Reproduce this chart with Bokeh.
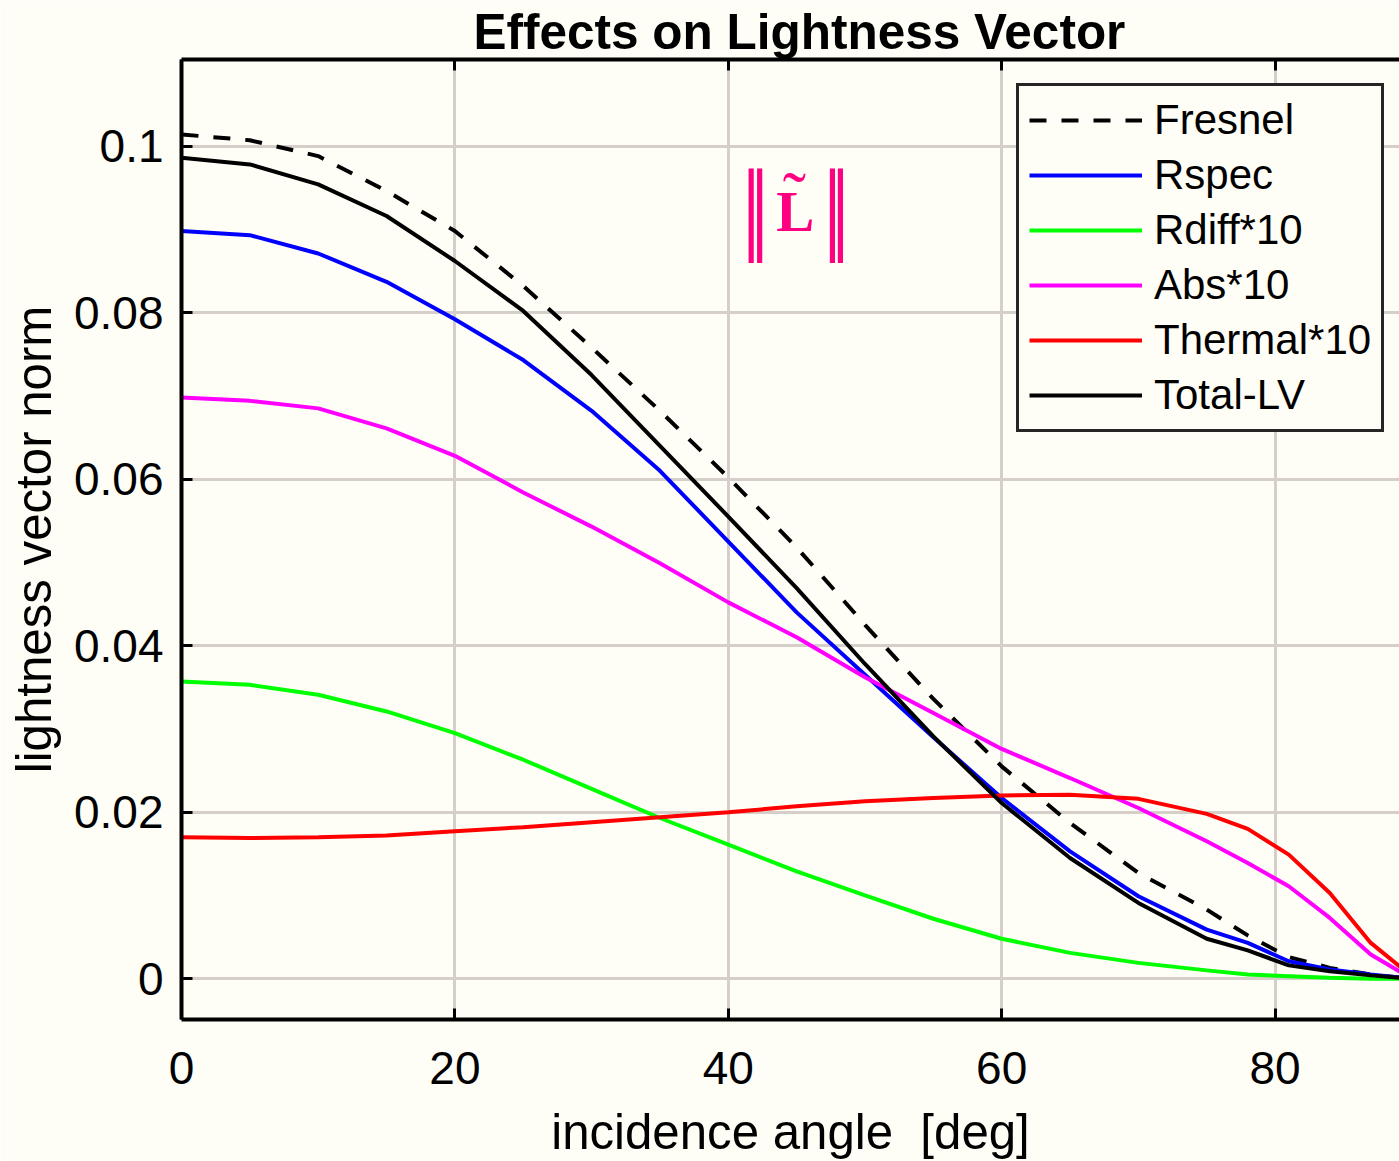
from bokeh.plotting import figure
from bokeh.models import (Range1d, FixedTicker, LinearAxis, Label, Legend, LegendItem,
                          CustomLabelingPolicy)
from bokeh.embed import file_html
from bokeh.resources import INLINE

# ---------------- data ----------------
angles = [0, 5, 10, 15, 20, 25, 30, 35, 40, 45, 50, 55, 60, 65, 70, 75, 78, 81, 84, 87, 90]

fresnel = [0.1014, 0.1007, 0.0988, 0.0946, 0.0898, 0.0832, 0.0758, 0.0682, 0.0602, 0.0518,
           0.0425, 0.0336, 0.0255, 0.0187, 0.0127, 0.0083, 0.0052, 0.0026, 0.0013, 0.0005, 0.0]
rspec = [0.0898, 0.0893, 0.0871, 0.0837, 0.0792, 0.0743, 0.0682, 0.0610, 0.0525, 0.0440,
         0.0365, 0.0290, 0.0217, 0.0153, 0.0099, 0.0059, 0.0043, 0.0021, 0.0011, 0.0005, 0.0]
rdiff10 = [0.0357, 0.0353, 0.0341, 0.0321, 0.0295, 0.0263, 0.0228, 0.0193, 0.0161, 0.0129,
           0.0100, 0.0072, 0.0048, 0.0031, 0.0019, 0.0010, 0.0005, 0.0003, 0.0001, 0.0, 0.0]
abs10 = [0.0698, 0.0694, 0.0685, 0.0661, 0.0628, 0.0584, 0.0543, 0.0499, 0.0452, 0.0410,
         0.0362, 0.0319, 0.0276, 0.0241, 0.0205, 0.0165, 0.0139, 0.0111, 0.0073, 0.0029, 0.0]
thermal10 = [0.0170, 0.0169, 0.0170, 0.0172, 0.0177, 0.0182, 0.0188, 0.0194, 0.0200, 0.0207,
             0.0213, 0.0217, 0.0220, 0.0221, 0.0216, 0.0198, 0.0180, 0.0149, 0.0103, 0.0043, 0.0003]
total_lv = [0.0986, 0.0978, 0.0954, 0.0916, 0.0862, 0.0802, 0.0725, 0.0640, 0.0555, 0.0469,
            0.0378, 0.0291, 0.0211, 0.0145, 0.0091, 0.0048, 0.0034, 0.0016, 0.0009, 0.0004, 0.0]

series_names = ["Fresnel", "Rspec", "Rdiff*10", "Abs*10", "Thermal*10", "Total-LV"]

x_ticks = [0, 20, 40, 60, 80]
y_ticks = [0, 0.02, 0.04, 0.06, 0.08, 0.1]
y_tick_labels = ["0", "0.02", "0.04", "0.06", "0.08", "0.1"]

title_text = "Effects on Lightness Vector"
x_label = "incidence angle\u00a0 [deg]"
y_label = "lightness vector norm"

# ---------------- style ----------------
BG = "#fffef6"
GRID = "#d5cec9"
FONT = "Liberation Sans"
PINK = "#ff0080"

p = figure(width=1399, height=1161,
           x_range=Range1d(0, 89.1), y_range=Range1d(-0.0049, 0.1104),
           output_backend="svg", toolbar_location=None,
           min_border_left=181, min_border_right=0, min_border_top=58, min_border_bottom=141,
           background_fill_color=BG, border_fill_color=BG, outline_line_color=None)

p.title.text = title_text
p.title.text_font = FONT
p.title.text_font_size = "49.5px"
p.title.text_font_style = "bold"
p.title.align = "left"
p.title.offset = 292
p.title.standoff = 2
p.title.text_color = "black"

# grids
p.xgrid.ticker = FixedTicker(ticks=x_ticks)
p.ygrid.ticker = FixedTicker(ticks=y_ticks)
for g in (p.xgrid[0], p.ygrid[0]):
    g.grid_line_color = GRID
    g.grid_line_width = 3

# axes
xa = p.xaxis[0]
ya = p.yaxis[0]
xa.ticker = FixedTicker(ticks=x_ticks)
ya.ticker = FixedTicker(ticks=y_ticks)
ya.major_label_overrides = {v: s for v, s in zip(y_ticks, y_tick_labels)}
xa.axis_label = x_label
ya.axis_label = y_label
for ax in (xa, ya):
    ax.axis_line_width = 4
    ax.axis_line_color = "black"
    ax.major_tick_in = 11
    ax.major_tick_out = 0
    ax.major_tick_line_width = 3
    ax.major_tick_line_color = "black"
    ax.minor_tick_line_color = None
    ax.major_label_text_font = FONT
    ax.major_label_text_font_size = "46px"
    ax.major_label_text_color = "black"
    ax.axis_label_text_font = FONT
    ax.axis_label_text_font_size = "49.2px"
    ax.axis_label_text_font_style = "normal"
    ax.axis_label_text_color = "black"
xa.major_label_standoff = 32
ya.major_label_standoff = 18
xa.axis_label_standoff = 17
ya.axis_label_standoff = 10

# top frame edge with inward ticks, no labels
no_labels = CustomLabelingPolicy(code="return new Set()")
top = LinearAxis(ticker=FixedTicker(ticks=x_ticks), axis_line_width=4, major_tick_in=11,
                 major_tick_out=0, major_tick_line_width=3, minor_tick_line_color=None,
                 major_label_text_font_size="0px", major_label_standoff=0,
                 major_label_policy=no_labels)
p.add_layout(top, "above")

# lines
LW = 4
r1 = p.line(angles, fresnel, line_color="black", line_width=LW, line_dash="17 15")
r2 = p.line(angles, rspec, line_color="#0000ff", line_width=LW)
r3 = p.line(angles, rdiff10, line_color="#00ff00", line_width=LW)
r4 = p.line(angles, abs10, line_color="#ff00ff", line_width=LW)
r5 = p.line(angles, thermal10, line_color="#ff0000", line_width=LW)
r6 = p.line(angles, total_lv, line_color="black", line_width=LW)

legend = Legend(items=[LegendItem(label=n, renderers=[r]) for n, r in
                       zip(series_names, [r1, r2, r3, r4, r5, r6])],
                location=(835, 587))
legend.label_text_font = FONT
legend.label_text_font_size = "42px"
legend.label_text_color = "black"
legend.glyph_width = 113
legend.glyph_height = 40
legend.label_height = 40
legend.label_standoff = 12
legend.spacing = 7
legend.padding = 10
legend.margin = 0
legend.border_line_color = "#262626"
legend.border_line_alpha = 1
legend.border_line_width = 3
legend.background_fill_color = BG
legend.background_fill_alpha = 1
p.add_layout(legend, "center")

# annotation  ||L~||  (double bars, bold L, tilde)
for bx in (41.68, 42.30, 47.62, 48.21):
    p.add_layout(Label(x=bx, y=0.0929, text="|", text_font="Liberation Serif",
                       text_font_size="104px", text_color=PINK, text_align="center",
                       text_baseline="middle"))
p.add_layout(Label(x=44.9, y=0.0922, text="L", text_font="Liberation Serif",
                   text_font_style="bold", text_font_size="57px", text_color=PINK,
                   text_align="center", text_baseline="alphabetic"))
p.add_layout(Label(x=44.83, y=0.0940, text="\u02dc", text_font="Liberation Serif",
                   text_font_size="70px", text_color=PINK, text_align="center",
                   text_baseline="middle"))

open("out.html", "w").write(file_html(p, INLINE))
